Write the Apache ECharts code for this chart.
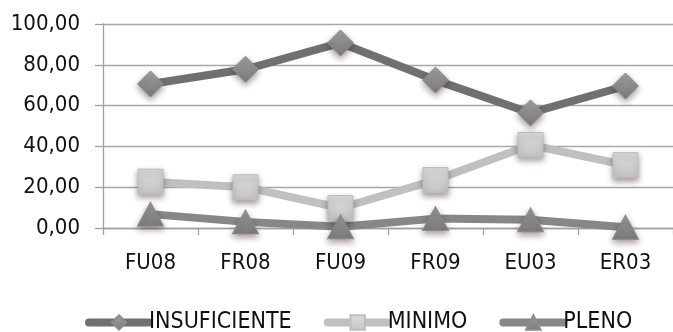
<!DOCTYPE html>
<html><head><meta charset="utf-8">
<script src="https://cdn.jsdelivr.net/npm/echarts@6/dist/echarts.min.js"></script>
<style>html,body{margin:0;padding:0;background:#fff}#c{width:673px;height:332px}</style>
</head><body><div id="c"></div>
<script>
var categories = ['FU08','FR08','FU09','FR09','EU03','ER03'];
var insuficiente = [70.6, 77.8, 90.7, 72.5, 56.4, 69.6];
var minimo = [22.7, 20.0, 9.8, 23.5, 40.7, 30.8];
var pleno = [6.8, 3.0, 0.6, 4.6, 4.0, 0.4];
var yTicks = [0, 20, 40, 60, 80, 100];

var FONT = '"DejaVu Sans Condensed",sans-serif';
var chart = echarts.init(document.getElementById('c'), null, {renderer:'canvas'});
var shadow = {shadowColor:'rgba(60,30,30,0.45)', shadowBlur:6, shadowOffsetY:3};
function grad(a,b){return new echarts.graphic.LinearGradient(0,0,0,1,[{offset:0,color:a},{offset:1,color:b}]);}
chart.setOption({
  animation:false,
  grid:{left:103, right:-8, top:24, bottom:104, containLabel:false},
  legend:{
    left:80, top:306, itemWidth:60, itemHeight:18, itemGap:32,
    lineStyle:{width:8, cap:'round'},
    textStyle:{fontFamily:FONT, fontSize:23, color:'#111', padding:[0,0,0,-5]},
    data:['INSUFICIENTE','MINIMO','PLENO']
  },
  xAxis:{
    type:'category', data:categories, boundaryGap:true,
    axisLine:{lineStyle:{color:'#a0a0a0', width:1.3}},
    axisTick:{show:true, length:7, lineStyle:{color:'#a0a0a0', width:1.3}},
    axisLabel:{fontFamily:FONT, fontSize:22, color:'#111', margin:24}
  },
  yAxis:{
    type:'value', min:0, max:100, interval:20,
    axisLine:{show:true, lineStyle:{color:'#a0a0a0', width:1.3}},
    axisTick:{show:true, length:8, lineStyle:{color:'#a0a0a0', width:1.3}},
    splitLine:{lineStyle:{color:'#a6a6a6', width:1.3}},
    axisLabel:{fontFamily:FONT, fontSize:22, color:'#111', margin:23,
      formatter:function(v){return yTicks.indexOf(v)>=0 ? v.toFixed(2).replace('.',',') : '';}}
  },
  series:[
    {name:'INSUFICIENTE', type:'line', data:insuficiente, symbol:'diamond', symbolSize:26,
     lineStyle:{color:'#707070', width:8},
     itemStyle:Object.assign({color:grad('#a0a0a0','#7a7a7a'), borderColor:'#8a8a8a', borderWidth:1}, shadow)},
    {name:'MINIMO', type:'line', data:minimo, symbol:'rect', symbolSize:25,
     lineStyle:{color:'#c0c0c0', width:8},
     itemStyle:Object.assign({color:grad('#dcdcdc','#c4c4c4'), borderColor:'#bdbdbd', borderWidth:1}, shadow)},
    {name:'PLENO', type:'line', data:pleno, symbol:'triangle', symbolSize:[26,24],
     lineStyle:{color:'#878787', width:8},
     itemStyle:Object.assign({color:grad('#999999','#7d7d7d'), borderColor:'#8a8a8a', borderWidth:1}, shadow)}
  ]
});
</script></body></html>
